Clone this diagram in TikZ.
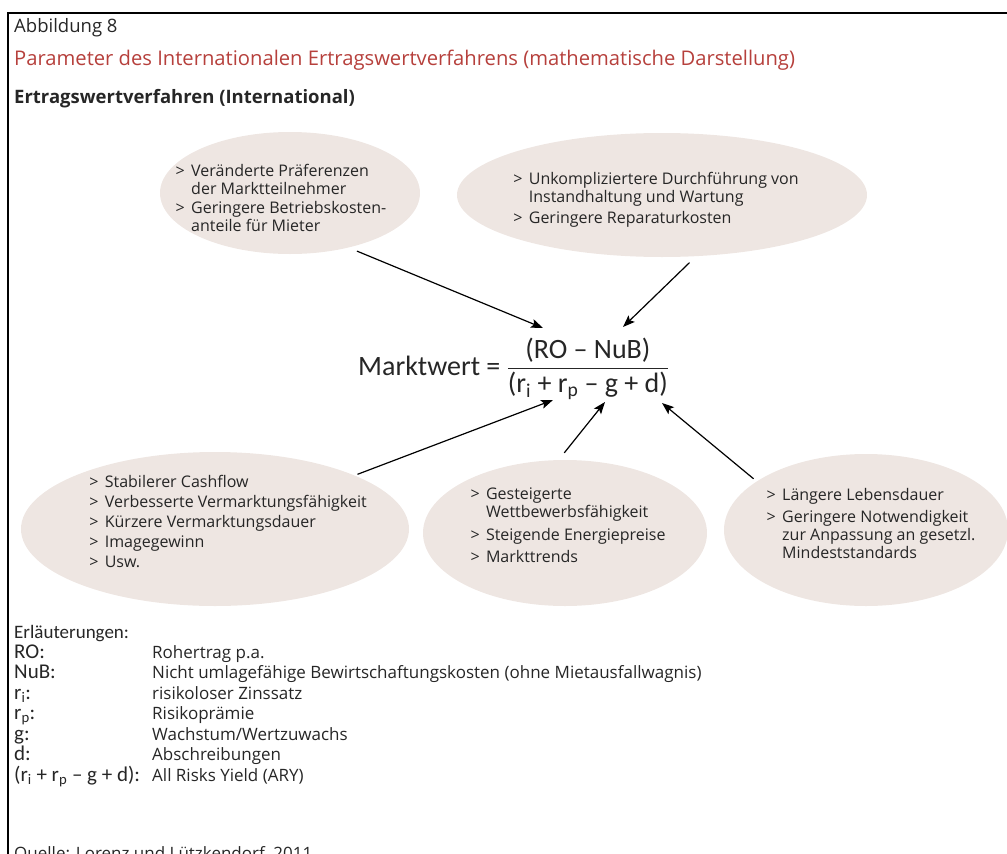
\documentclass[tikz,border=0pt]{standalone}
\usepackage{amsmath}
\usepackage{fontspec}
\setmainfont{Open Sans}
\newfontfamily\calib{Carlito}
\usetikzlibrary{arrows.meta,shapes.geometric}
\definecolor{blobfill}{RGB}{238,230,226}
\definecolor{subred}{RGB}{182,64,60}
\definecolor{ink}{RGB}{38,38,38}
\begin{document}
\begin{tikzpicture}[x=1pt,y=-1pt,
  blob/.style={ellipse, fill=blobfill, inner sep=0pt},
  blobtext/.style={inner sep=0pt, text=ink, font=\fontsize{16}{18}\selectfont},
  arr/.style={draw=black, line width=1.2pt, -{Stealth[length=12pt,width=9pt,inset=2.5pt]}},
  lab/.style={anchor=base west, inner sep=0pt, text=ink, font=\calib\fontsize{21}{24}\selectfont},
  expl/.style={anchor=base west, inner sep=0pt, text=ink, font=\fontsize{17}{20}\selectfont},
  hdr/.style={anchor=base west, inner sep=0pt, text=ink},
]
\useasboundingbox (0,0) rectangle (1007,854);

% frame (top and left edge)
\draw[line width=2pt] (1007,12.5) -- (7.5,12.5) -- (7.5,854);

% headings
\node[hdr, font=\fontsize{18.5}{22}\selectfont] (title) at (14,32) {Abbildung 8};
\node[hdr, text=subred, font=\fontsize{20.2}{24}\selectfont] (subtitle) at (14,65)
  {Parameter des Internationalen Ertragswertverfahrens (mathematische Darstellung)};
\node[hdr, font=\bfseries\fontsize{18.5}{22}\selectfont] (heading) at (14,103)
  {Ertragswertverfahren (International)};

% ellipses
\node[blob, minimum width=260pt, minimum height=122pt] (e1) at (290,193) {};
\node[blob, minimum width=410pt, minimum height=124pt] (e2) at (662,195) {};
\node[blob, minimum width=388pt, minimum height=154pt] (e3) at (215,529) {};
\node[blob, minimum width=284pt, minimum height=146pt] (e4) at (565,533) {};
\node[blob, minimum width=284pt, minimum height=152pt] (e5) at (866,530) {};

\node[blobtext] (x1) at (281,200) {\begin{tabular}{@{}l@{\hspace{0.4em}}l@{}}
>&Veränderte Präferenzen\\&der Marktteilnehmer\\[1pt]>&Geringere Betriebskosten-\\&anteile für Mieter\end{tabular}};
\node[blobtext] (x2) at (656,200) {\begin{tabular}{@{}l@{\hspace{0.4em}}l@{}}
>&Unkompliziertere Durchführung von\\&Instandhaltung und Wartung\\[3pt]>&Geringere Reparaturkosten\end{tabular}};
\node[blobtext] (x3) at (228,524) {\begin{tabular}{@{}l@{\hspace{0.4em}}l@{}}
>&Stabilerer Cashflow\\[2pt]>&Verbesserte Vermarktungsfähigkeit\\[2pt]>&Kürzere Vermarktungsdauer\\[2pt]>&Imagegewinn\\[2pt]>&Usw.\end{tabular}};
\node[blobtext] (x4) at (568,527) {\begin{tabular}{@{}l@{\hspace{0.4em}}l@{}}
>&Gesteigerte\\&Wettbewerbsfähigkeit\\[5pt]>&Steigende Energiepreise\\[4pt]>&Markttrends\end{tabular}};
\node[blobtext] (x5) at (871,526) {\begin{tabular}{@{}l@{\hspace{0.4em}}l@{}}
>&Längere Lebensdauer\\[4pt]>&Geringere Notwendigkeit\\&zur Anpassung an gesetzl.\\&Mindeststandards\end{tabular}};

% formula
\node[anchor=base west, inner sep=0pt, text=ink, font=\calib\fontsize{28}{34}\selectfont] (formula) at (358,375)
  {Marktwert = $\displaystyle\frac{\text{(RO – NuB)}}{\text{(r\textsubscript{i} + r\textsubscript{p} – g + d)}}$};

% arrow targets around the formula
\coordinate (t1) at (543,328);
\coordinate (t2) at (623,327);
\coordinate (t3) at (553,400);
\coordinate (t4) at (605,402);
\coordinate (t5) at (662,403);

\draw[arr, shorten <=9pt] (e1.-43) -- (t1);
\draw[arr, shorten <=9pt] (e2.-61) -- (t2);
\draw[arr, shorten <=3pt] (e3.21) -- (t3);
\draw[arr, shorten <=9pt] (e4.95) -- (t4);
\draw[arr, shorten <=4pt] (e5.156) -- (t5);

% explanations
\node[hdr, font=\calib\fontsize{19}{22}\selectfont] (expl) at (14,638) {Erläuterungen:};
\node[lab] (l1) at (14,658) {RO:};
\node[lab] (l2) at (14,678.5) {NuB:};
\node[lab] (l3) at (14,699) {r\textsubscript{i}:};
\node[lab] (l4) at (14,719.5) {r\textsubscript{p}:};
\node[lab] (l5) at (14,740) {g:};
\node[lab] (l6) at (14,760.5) {d:};
\node[lab] (l7) at (14,781) {(r\textsubscript{i} + r\textsubscript{p} – g + d):};
\node[expl] (d1) at (152,658) {Rohertrag p.a.};
\node[expl] (d2) at (152,678.5) {Nicht umlagefähige Bewirtschaftungskosten (ohne Mietausfallwagnis)};
\node[expl] (d3) at (152,699) {risikoloser Zinssatz};
\node[expl] (d4) at (152,719.5) {Risikoprämie};
\node[expl] (d5) at (152,740) {Wachstum/Wertzuwachs};
\node[expl] (d6) at (152,760.5) {Abschreibungen};
\node[expl] (d7) at (152,781) {All Risks Yield (ARY)};

\node[hdr, font=\fontsize{17}{20}\selectfont] (source) at (14,859) {Quelle: Lorenz und Lützkendorf, 2011};
\end{tikzpicture}
\end{document}
